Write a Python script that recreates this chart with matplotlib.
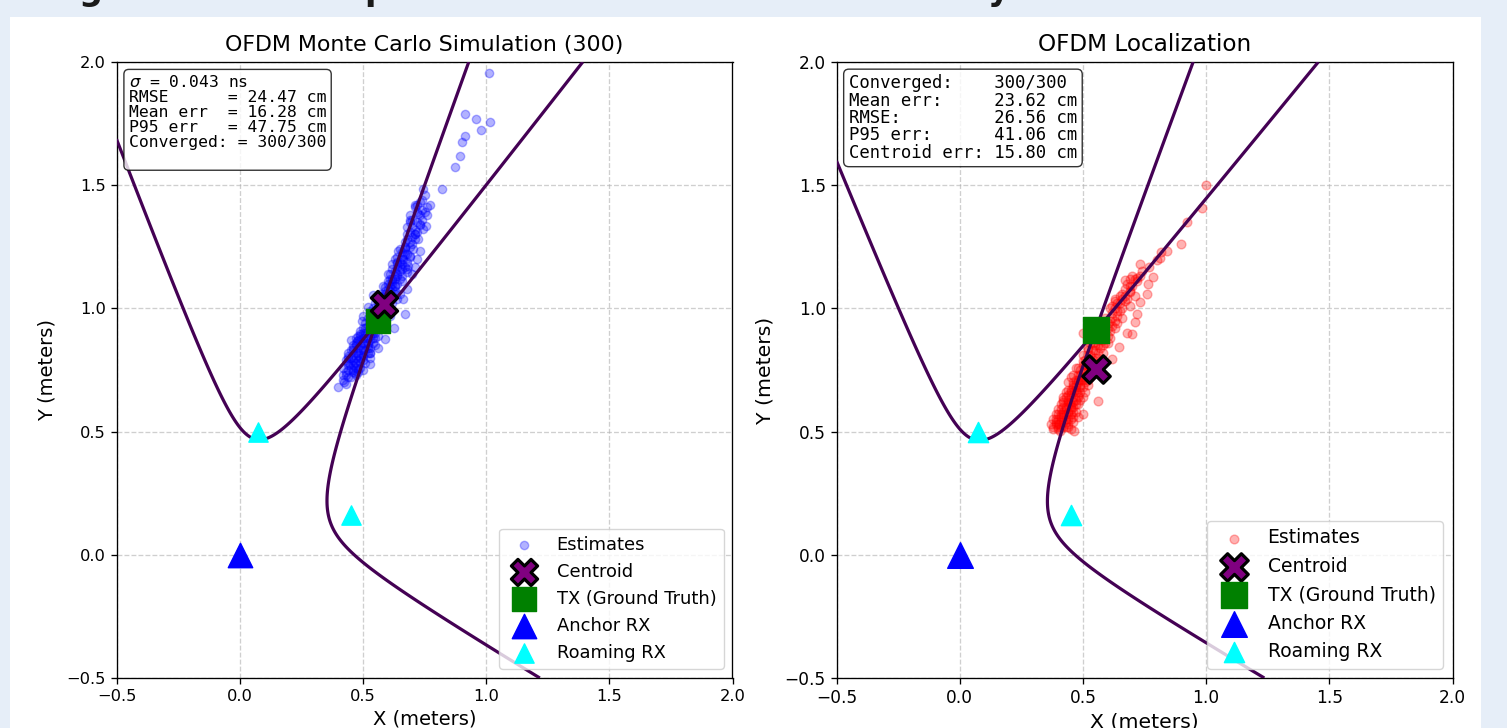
import numpy as np
import matplotlib.pyplot as plt
from matplotlib.patches import Rectangle

# receiver / transmitter positions (meters)
anchor_rx = (0.0, 0.0)
roaming_rx_x = [0.075, 0.45]
roaming_rx_y = [0.50, 0.16]

# left panel: Monte Carlo run
mc_tx = (0.560, 0.947)
mc_centroid = (0.587, 1.017)
mc_range_diff = [-0.4406, -0.304]  # |P - roaming| - |P - anchor|
mc_estimates = [
    (1.011, 1.957), (0.915, 1.789), (0.958, 1.768), (1.015, 1.755), (0.981, 1.724),
    (0.916, 1.699), (0.904, 1.676), (0.893, 1.617), (0.874, 1.573), (0.745, 1.484),
    (0.752, 1.460), (0.822, 1.484), (0.711, 1.419), (0.772, 1.419), (0.725, 1.383),
    (0.762, 1.379), (0.691, 1.360), (0.731, 1.342), (0.756, 1.335), (0.745, 1.322),
    (0.711, 1.302), (0.725, 1.281), (0.643, 1.234), (0.671, 1.247), (0.704, 1.241),
    (0.731, 1.234), (0.691, 1.213), (0.718, 1.200), (0.664, 1.200), (0.637, 1.186),
    (0.684, 1.173), (0.711, 1.166), (0.657, 1.159), (0.677, 1.146), (0.603, 1.139),
    (0.637, 1.132), (0.698, 1.139), (0.617, 1.112), (0.657, 1.112), (0.590, 1.085),
    (0.630, 1.092), (0.680, 1.078), (0.542, 1.055), (0.650, 1.058), (0.583, 1.047),
    (0.664, 1.038), (0.522, 1.004), (0.671, 0.977), (0.626, 0.920), (0.590, 0.875),
    (0.495, 0.950), (0.488, 0.896), (0.475, 0.868), (0.562, 0.841), (0.461, 0.841),
    (0.529, 0.821), (0.441, 0.808), (0.502, 0.801), (0.468, 0.780), (0.529, 0.774),
    (0.448, 0.774), (0.481, 0.754), (0.468, 0.736), (0.400, 0.679), (0.423, 0.703),
    (0.432, 0.693),
    (0.45, 0.72), (0.47, 0.73), (0.44, 0.75), (0.49, 0.76), (0.46, 0.77), (0.51, 0.78),
    (0.48, 0.79), (0.45, 0.80), (0.50, 0.81), (0.53, 0.80), (0.47, 0.82), (0.49, 0.83),
    (0.52, 0.84), (0.46, 0.85), (0.50, 0.86), (0.54, 0.86), (0.48, 0.87), (0.52, 0.88),
    (0.51, 0.90), (0.55, 0.90), (0.49, 0.91), (0.53, 0.92), (0.57, 0.93), (0.51, 0.94),
    (0.55, 0.95), (0.53, 0.97), (0.58, 0.96), (0.56, 0.98), (0.60, 0.99), (0.54, 1.00),
    (0.58, 1.01), (0.62, 1.02), (0.57, 1.03), (0.60, 1.05), (0.63, 1.06), (0.59, 1.07),
    (0.61, 1.09), (0.64, 1.10), (0.62, 1.12), (0.66, 1.13), (0.63, 1.15), (0.67, 1.17),
    (0.65, 1.19), (0.69, 1.21), (0.66, 1.23), (0.70, 1.26), (0.68, 1.28), (0.72, 1.31),
    (0.70, 1.33), (0.74, 1.36), (0.72, 1.39), (0.76, 1.41), (0.74, 1.44), (0.43, 0.74),
    (0.48, 0.74), (0.50, 0.79), (0.47, 0.80), (0.52, 0.82), (0.49, 0.85), (0.55, 0.88),
    (0.52, 0.86), (0.50, 0.88), (0.54, 0.93), (0.56, 0.95), (0.59, 0.94), (0.52, 0.96),
    (0.57, 1.00), (0.61, 1.03), (0.55, 1.02), (0.59, 1.04), (0.62, 1.08), (0.58, 1.09),
    (0.65, 1.12), (0.60, 1.11), (0.64, 1.17), (0.68, 1.19), (0.67, 1.24), (0.71, 1.28),
    (0.69, 1.31), (0.73, 1.34),
    (0.42, 0.71), (0.44, 0.72), (0.46, 0.74), (0.42, 0.76), (0.44, 0.78), (0.47, 0.76),
    (0.50, 0.75), (0.43, 0.79), (0.46, 0.79), (0.49, 0.78), (0.44, 0.82), (0.46, 0.83),
    (0.48, 0.81), (0.51, 0.83), (0.53, 0.82), (0.45, 0.87), (0.47, 0.88), (0.49, 0.89),
    (0.51, 0.86), (0.53, 0.89), (0.55, 0.85), (0.48, 0.84), (0.50, 0.92), (0.52, 0.91),
    (0.54, 0.90), (0.56, 0.92), (0.50, 0.97), (0.53, 0.95), (0.55, 0.97), (0.57, 0.97),
    (0.59, 0.98), (0.61, 0.97), (0.56, 1.02), (0.58, 1.05), (0.60, 1.01), (0.62, 1.05),
    (0.64, 1.04), (0.57, 1.06), (0.60, 1.08), (0.63, 1.09), (0.61, 1.14), (0.63, 1.12),
    (0.65, 1.15), (0.62, 1.18), (0.64, 1.21), (0.66, 1.20), (0.68, 1.16), (0.67, 1.22),
    (0.63, 1.20), (0.67, 1.27), (0.69, 1.25), (0.71, 1.30), (0.68, 1.33), (0.70, 1.36),
    (0.73, 1.38), (0.71, 1.41), (0.75, 1.39), (0.73, 1.43), (0.69, 1.38),
    (0.43, 0.73), (0.45, 0.76), (0.47, 0.78), (0.44, 0.80), (0.46, 0.81), (0.48, 0.82),
    (0.50, 0.83), (0.47, 0.85), (0.49, 0.87), (0.51, 0.88), (0.53, 0.87), (0.48, 0.89),
    (0.50, 0.90), (0.52, 0.93), (0.54, 0.94), (0.51, 0.92), (0.53, 0.99), (0.55, 0.99),
    (0.57, 0.99), (0.56, 1.04), (0.58, 1.03), (0.59, 1.06), (0.61, 1.07), (0.60, 1.10),
    (0.62, 1.10), (0.61, 1.12), (0.63, 1.13), (0.64, 1.14), (0.62, 1.16), (0.65, 1.17),
    (0.66, 1.18), (0.64, 1.19), (0.66, 1.21), (0.68, 1.22), (0.65, 1.24), (0.67, 1.25),
    (0.69, 1.27), (0.68, 1.30), (0.70, 1.29), (0.71, 1.32), (0.72, 1.35), (0.69, 1.35),
    (0.74, 1.40), (0.72, 1.42), (0.46, 0.75), (0.44, 0.77), (0.49, 0.80), (0.52, 0.85),
    (0.54, 0.88), (0.56, 0.89), (0.58, 1.00), (0.60, 1.03), (0.63, 1.07), (0.57, 0.95),
    (0.55, 0.92), (0.45, 0.83), (0.47, 0.86), (0.42, 0.73), (0.50, 0.84), (0.53, 0.84),
]
mc_stats = ("$\\sigma$ = 0.043 ns\n"
            "RMSE      = 24.47 cm\n"
            "Mean err  = 16.28 cm\n"
            "P95 err   = 47.75 cm\n"
            "Converged: = 300/300\n")

# right panel: single localization
loc_tx = (0.555, 0.913)
loc_centroid = (0.553, 0.754)
loc_range_diff = [-0.435, -0.307]
loc_estimates = [
    (0.998, 1.502), (0.984, 1.407), (0.921, 1.349), (0.897, 1.261), (0.840, 1.234),
    (0.816, 1.230), (0.813, 1.204), (0.799, 1.196), (0.783, 1.128), (0.718, 1.123),
    (0.671, 1.115), (0.765, 1.099), (0.759, 1.058), (0.691, 1.065), (0.732, 1.024),
    (0.630, 1.031), (0.718, 0.977), (0.711, 0.943), (0.698, 0.898), (0.678, 0.902),
    (0.648, 0.844), (0.502, 0.900), (0.617, 0.794), (0.502, 0.787), (0.563, 0.625),
    (0.462, 0.666), (0.448, 0.618), (0.401, 0.530), (0.408, 0.503), (0.462, 0.503),
    (0.502, 0.571),
    (0.38, 0.52), (0.40, 0.51), (0.42, 0.52), (0.44, 0.53), (0.41, 0.54), (0.39, 0.55),
    (0.43, 0.55), (0.46, 0.54), (0.40, 0.57), (0.42, 0.58), (0.45, 0.57), (0.48, 0.56),
    (0.43, 0.60), (0.41, 0.61), (0.46, 0.60), (0.44, 0.62), (0.48, 0.61), (0.42, 0.64),
    (0.45, 0.65), (0.47, 0.63), (0.50, 0.64), (0.44, 0.67), (0.47, 0.68), (0.49, 0.66),
    (0.46, 0.70), (0.49, 0.71), (0.52, 0.69), (0.48, 0.73), (0.51, 0.74), (0.47, 0.76),
    (0.50, 0.77), (0.53, 0.76), (0.52, 0.79), (0.55, 0.80), (0.50, 0.81), (0.54, 0.83),
    (0.57, 0.84), (0.53, 0.86), (0.56, 0.87), (0.59, 0.86), (0.55, 0.89), (0.58, 0.90),
    (0.61, 0.91), (0.57, 0.92), (0.60, 0.94), (0.63, 0.95), (0.59, 0.96), (0.62, 0.98),
    (0.65, 0.99), (0.61, 1.00), (0.64, 1.02), (0.67, 1.03), (0.66, 1.06), (0.69, 1.07),
    (0.68, 1.10), (0.72, 1.11), (0.70, 1.13), (0.74, 1.15), (0.73, 1.18), (0.77, 1.17),
    (0.45, 0.59), (0.43, 0.57), (0.47, 0.66), (0.41, 0.59), (0.44, 0.70), (0.39, 0.53),
    (0.45, 0.51), (0.50, 0.68), (0.53, 0.72), (0.46, 0.73), (0.55, 0.78), (0.58, 0.82),
    (0.52, 0.84), (0.60, 0.89), (0.63, 0.92), (0.66, 0.96), (0.63, 1.04), (0.69, 1.01),
    (0.71, 1.05),
    (0.37, 0.53), (0.38, 0.55), (0.40, 0.53), (0.42, 0.54), (0.44, 0.55), (0.41, 0.56),
    (0.43, 0.52), (0.46, 0.56), (0.39, 0.57), (0.44, 0.58), (0.47, 0.58), (0.40, 0.59),
    (0.42, 0.60), (0.45, 0.61), (0.42, 0.62), (0.44, 0.63), (0.46, 0.62), (0.48, 0.64),
    (0.43, 0.66), (0.45, 0.67), (0.47, 0.69), (0.49, 0.69), (0.51, 0.70), (0.45, 0.72),
    (0.48, 0.71), (0.50, 0.72), (0.52, 0.74), (0.49, 0.75), (0.46, 0.68), (0.51, 0.66),
    (0.51, 0.77), (0.53, 0.79), (0.54, 0.77), (0.52, 0.81), (0.56, 0.82), (0.55, 0.85),
    (0.58, 0.85), (0.57, 0.88), (0.59, 0.91), (0.61, 0.88), (0.62, 0.93), (0.56, 0.90),
    (0.64, 0.97), (0.66, 1.00), (0.62, 1.01), (0.68, 1.04), (0.65, 1.05), (0.70, 1.09),
    (0.67, 1.08), (0.71, 1.12), (0.73, 1.13), (0.69, 1.12),
    (0.38, 0.51), (0.41, 0.52), (0.43, 0.54), (0.40, 0.55), (0.42, 0.56), (0.44, 0.57),
    (0.46, 0.58), (0.41, 0.57), (0.43, 0.59), (0.45, 0.60), (0.47, 0.61), (0.44, 0.61),
    (0.42, 0.63), (0.46, 0.64), (0.48, 0.65), (0.43, 0.64), (0.45, 0.66), (0.47, 0.67),
    (0.49, 0.68), (0.46, 0.69), (0.48, 0.70), (0.50, 0.71), (0.47, 0.71), (0.49, 0.73),
    (0.51, 0.72), (0.48, 0.76), (0.50, 0.74), (0.52, 0.77), (0.51, 0.79), (0.53, 0.81),
    (0.54, 0.79), (0.52, 0.83), (0.55, 0.83), (0.54, 0.86), (0.56, 0.85), (0.58, 0.87),
    (0.57, 0.90), (0.59, 0.88), (0.60, 0.92), (0.58, 0.93), (0.61, 0.95), (0.62, 0.96),
    (0.64, 0.99), (0.63, 1.00), (0.65, 1.02), (0.67, 1.05), (0.66, 1.04), (0.69, 1.09),
    (0.40, 0.52), (0.39, 0.54), (0.44, 0.52), (0.45, 0.55), (0.42, 0.57), (0.44, 0.65),
    (0.49, 0.63), (0.52, 0.71), (0.53, 0.75), (0.56, 0.80), (0.60, 0.86), (0.64, 0.94),
]
loc_stats = ("Converged:    300/300\n"
             "Mean err:     23.62 cm\n"
             "RMSE:         26.56 cm\n"
             "P95 err:      41.06 cm\n"
             "Centroid err: 15.80 cm")

W, H = 1507, 728
fig = plt.figure(figsize=(W / 100, H / 100), dpi=100, facecolor='#e6eef8')
fig.add_artist(Rectangle((10 / W, 0), 1471 / W, 711 / H, transform=fig.transFigure,
                         facecolor='white', edgecolor='none', zorder=-5))

# page heading above the figure, only its descenders show
for ch, xpx in [('g', 78), ('p', 364), ('y', 988)]:
    fig.text(xpx / W, 1.0, ch, fontsize=24, fontweight='bold', color='#1a1a1a',
             ha='left', va='baseline')

gx, gy = np.meshgrid(np.linspace(-0.5, 2.0, 900), np.linspace(-0.5, 2.0, 900))
d_anchor = np.hypot(gx - anchor_rx[0], gy - anchor_rx[1])


def draw_panel(left_px, title, est, est_color, tx, centroid, range_diff, stats, k, ls):
    ax = fig.add_axes([left_px / W, 1 - 678 / H, 617 / W, 616 / H])
    pts = np.array(est)
    ax.scatter(pts[:, 0], pts[:, 1], s=36 * k * k, color=est_color, alpha=0.3,
               label='Estimates', zorder=2)
    for rx, ry, dd in zip(roaming_rx_x, roaming_rx_y, range_diff):
        f = np.hypot(gx - rx, gy - ry) - d_anchor - dd
        ax.contour(gx, gy, f, levels=[0], colors='#440154', linewidths=2.3, zorder=3)
    ax.scatter([centroid[0]], [centroid[1]], marker='X', s=356 * k * k, color='purple',
               edgecolor='black', linewidth=2.3, label='Centroid', zorder=5)
    ax.scatter([tx[0]], [tx[1]], marker='s', s=311 * k * k, color='green',
               label='TX (Ground Truth)', zorder=4)
    ax.scatter([anchor_rx[0]], [anchor_rx[1]], marker='^', s=309 * k * k, color='blue',
               label='Anchor RX', zorder=4)
    ax.scatter(roaming_rx_x, roaming_rx_y, marker='^', s=193 * k * k, color='cyan',
               label='Roaming RX', zorder=4)

    ax.set_xlim(-0.5, 2.0)
    ax.set_ylim(-0.5, 2.0)
    ax.set_aspect('equal')
    ticks = [-0.5, 0.0, 0.5, 1.0, 1.5, 2.0]
    ax.set_xticks(ticks)
    ax.set_yticks(ticks)
    ax.grid(True, linestyle='--', color='#b0b0b0', alpha=0.6, linewidth=0.95)
    ax.tick_params(labelsize=11.7 * k, length=4.1, width=0.95)
    for sp in ax.spines.values():
        sp.set_linewidth(0.95)
    ax.set_title(title, fontsize=15.9 * k, pad=8)
    ax.set_xlabel('X (meters)', fontsize=14 * k)
    ax.set_ylabel('Y (meters)', fontsize=14 * k, labelpad=7.5)
    ax.legend(loc='lower right', fontsize=12.9 * k)
    ax.text(0.02, 0.98, stats, transform=ax.transAxes, va='top', ha='left',
            family='DejaVu Sans Mono', fontsize=11.8 * k, linespacing=ls,
            bbox=dict(boxstyle='round', facecolor='white', alpha=0.8), zorder=6)
    return ax


draw_panel(116, 'OFDM Monte Carlo Simulation (300)', mc_estimates, 'blue',
           mc_tx, mc_centroid, mc_range_diff, mc_stats, 1.0, 1.0)
draw_panel(836, 'OFDM Localization', loc_estimates, 'red',
           loc_tx, loc_centroid, loc_range_diff, loc_stats, 1.05, 0.95)

fig.savefig('out.png', dpi=100, facecolor=fig.get_facecolor())
